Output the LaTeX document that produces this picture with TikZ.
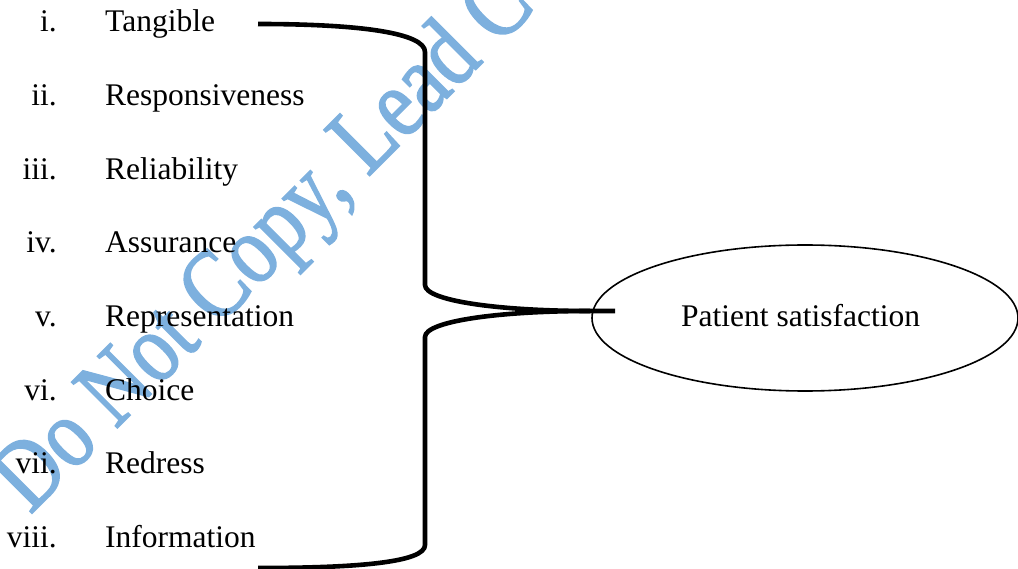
\documentclass[tikz,border=0pt]{standalone}
\usepackage{fontspec}
\setmainfont{Liberation Serif}
\newfontfamily\wmfont[FakeBold=1.8]{Liberation Serif}
\definecolor{wmblue}{RGB}{125,176,222}
\begin{document}
\begin{tikzpicture}[x=1pt,y=-1pt,
  numlbl/.style={anchor=base east,inner sep=0pt,font=\fontsize{31.5}{31.5}\selectfont},
  itemlbl/.style={anchor=base west,inner sep=0pt,font=\fontsize{31.5}{31.5}\selectfont},
  brace/.style={line width=4.6pt,line cap=butt,line join=round},
  oval/.style={line width=1.6pt}]
\useasboundingbox (0,0) rectangle (1018,569);
% watermark
\node[anchor=base west,inner sep=0pt,rotate=45,text=wmblue,
      font=\wmfont\fontsize{82}{82}\selectfont] (wm) at (30,515) {\scalebox{1}[1.2]{Do Not Copy, Lead C}};
% items
\foreach \n/\r/\t [count=\k from 0] in {i/i./Tangible,ii/ii./Responsiveness,iii/iii./Reliability,iv/iv./Assurance,v/v./Representation,vi/vi./Choice,vii/vii./Redress,viii/viii./Information}{
  \node[numlbl] (num-\n) at (57,32+73.6*\k) {\r};
  \node[itemlbl] (item-\n) at (105,32+73.6*\k) {\t};
}
% ellipse
\draw[oval] (805,318) ellipse [x radius=213,y radius=73];
\node[inner sep=0pt,anchor=base west,font=\fontsize{31.5}{31.5}\selectfont] (ps) at (681,327) {Patient satisfaction};
\coordinate (top) at (258,24);
\coordinate (bot) at (258,568);
\coordinate (tip) at (590,311);
\coordinate (end) at (615,311);
\draw[brace] (top) .. controls (360,24) and (425,33) .. (425,52)
  -- (425,285) .. controls (425,301) and (500,311) .. (tip) -- (end);
\draw[brace] (tip) .. controls (500,311) and (425,321) .. (425,337)
  -- (425,545) .. controls (425,562) and (360,568) .. (bot);
\end{tikzpicture}
\end{document}
